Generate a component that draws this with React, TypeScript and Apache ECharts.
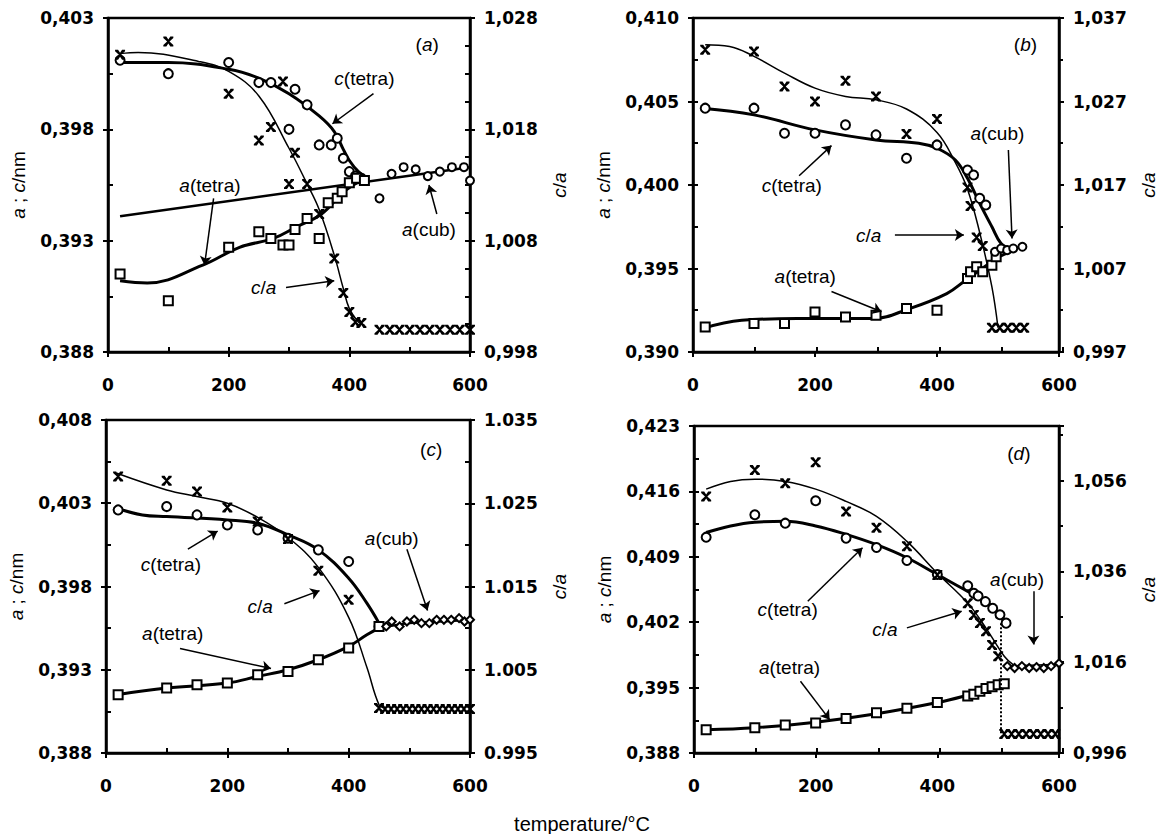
import { useEffect, useRef } from "react";
import * as echarts from "echarts";

type Pt = [number, number];

// ---- panel (a) ----
const aCTetra: Pt[] = [[20, 0.4011], [100, 0.4005], [200, 0.401], [250, 0.4001], [270, 0.4001], [310, 0.3998], [330, 0.3991], [300, 0.398], [350, 0.3973], [370, 0.3973], [380, 0.3976], [390, 0.3967], [400, 0.3961], [410, 0.3959], [420, 0.3958]];
const aATetra: Pt[] = [[20, 0.3915], [100, 0.3903], [200, 0.3927], [250, 0.3934], [270, 0.3931], [290, 0.3928], [300, 0.3928], [310, 0.3935], [330, 0.394], [350, 0.3931], [365, 0.3947], [380, 0.3949], [388, 0.3952], [400, 0.3956], [412, 0.3958], [425, 0.3957]];
const aCub: Pt[] = [[450, 0.3949], [470, 0.396], [490, 0.3963], [510, 0.3962], [530, 0.3959], [550, 0.3961], [570, 0.3963], [590, 0.3963], [600, 0.3957]];
const aRatio: Pt[] = [[20, 1.0247], [100, 1.0259], [200, 1.0212], [250, 1.017], [270, 1.0182], [290, 1.0223], [300, 1.0131], [310, 1.0159], [330, 1.0131], [350, 1.0104], [375, 1.0064], [390, 1.0033], [400, 1.0016], [410, 1.0007], [420, 1.0006], [450, 1.0], [467, 1.0], [483, 1.0], [500, 1.0], [517, 1.0], [533, 1.0], [550, 1.0], [567, 1.0], [583, 1.0], [600, 1.0]];
const aCTetraFit: Pt[] = [[20, 0.401], [100, 0.401], [200, 0.4007], [250, 0.4003], [300, 0.3996], [350, 0.3986], [375, 0.3979], [390, 0.3971], [400, 0.3966], [415, 0.3961], [430, 0.3958]];
const aATetraFit: Pt[] = [[20, 0.3912], [65, 0.3911], [157, 0.3919], [218, 0.3927], [274, 0.3931], [311, 0.3936], [354, 0.3942], [391, 0.3952], [425, 0.3958]];
const aRatioFit: Pt[] = [[20, 1.0248], [50, 1.0249], [150, 1.0241], [200, 1.0232], [250, 1.021], [300, 1.0163], [330, 1.0131], [350, 1.0108], [375, 1.0067], [390, 1.0037], [400, 1.0019], [415, 1.0007], [425, 1.0004]];
const aCubFit: Pt[] = [[20, 0.3941], [600, 0.3963]];

// ---- panel (b) ----
const bCTetra: Pt[] = [[20, 0.4046], [100, 0.4046], [150, 0.4031], [200, 0.4031], [250, 0.4036], [300, 0.403], [350, 0.4016], [400, 0.4024], [450, 0.4009], [460, 0.4006], [470, 0.3992], [480, 0.3988]];
const bATetra: Pt[] = [[20, 0.3915], [100, 0.3917], [150, 0.3917], [200, 0.3924], [250, 0.3921], [300, 0.3922], [350, 0.3926], [400, 0.3925], [450, 0.3944], [455, 0.3948], [465, 0.3951], [475, 0.3948], [490, 0.3952], [497, 0.3957]];
const bCub: Pt[] = [[495, 0.396], [505, 0.3962], [515, 0.3961], [525, 0.3962], [540, 0.3963]];
const bRatio: Pt[] = [[20, 1.0332], [100, 1.033], [150, 1.0288], [200, 1.027], [250, 1.0295], [300, 1.0276], [350, 1.0231], [400, 1.0249], [450, 1.0167], [455, 1.0145], [465, 1.0107], [475, 1.0097], [490, 0.9999], [503, 0.9999], [516, 0.9999], [530, 0.9999], [543, 0.9999]];
const bCTetraFit: Pt[] = [[15, 0.4046], [100, 0.4042], [200, 0.4033], [300, 0.4027], [370, 0.4025], [400, 0.4022], [430, 0.4015], [450, 0.4004], [470, 0.3989], [490, 0.3975], [505, 0.3965], [520, 0.3962]];
const bATetraFit: Pt[] = [[15, 0.3914], [80, 0.3919], [171, 0.392], [294, 0.392], [355, 0.3926], [416, 0.3935], [447, 0.3943], [478, 0.3951], [502, 0.3957], [527, 0.3961]];
const bRatioFit: Pt[] = [[20, 1.0338], [60, 1.0336], [100, 1.0324], [150, 1.0304], [200, 1.0286], [250, 1.0276], [300, 1.0272], [350, 1.0261], [400, 1.0233], [430, 1.0197], [450, 1.0165], [470, 1.0113], [490, 1.0048], [500, 0.9999]];
const bCubFit: Pt[] = [[500, 0.396], [540, 0.3963]];

// ---- panel (c) ----
const cCTetra: Pt[] = [[20, 0.4026], [100, 0.4028], [150, 0.4023], [200, 0.4017], [250, 0.4014], [300, 0.4009], [350, 0.4002], [400, 0.3995], [450, 0.3956]];
const cATetra: Pt[] = [[20, 0.3915], [100, 0.3919], [150, 0.3921], [200, 0.3922], [250, 0.3927], [300, 0.3929], [350, 0.3936], [400, 0.3943], [450, 0.3956]];
const cCub: Pt[] = [[462, 0.3956], [471, 0.3959], [484, 0.3956], [496, 0.3959], [508, 0.396], [520, 0.3958], [533, 0.3958], [545, 0.396], [557, 0.396], [569, 0.396], [582, 0.3961], [591, 0.3959], [600, 0.396]];
const cRatio: Pt[] = [[20, 1.0282], [100, 1.0277], [150, 1.0264], [200, 1.0245], [250, 1.0228], [300, 1.0207], [350, 1.0169], [400, 1.0134], [450, 1.0004], [460, 1.0003], [470, 1.0003], [480, 1.0003], [490, 1.0003], [500, 1.0003], [510, 1.0003], [520, 1.0003], [530, 1.0003], [540, 1.0003], [550, 1.0003], [560, 1.0003], [570, 1.0003], [580, 1.0003], [590, 1.0003], [600, 1.0003]];
const cCTetraFit: Pt[] = [[18, 0.4027], [60, 0.4023], [100, 0.4022], [200, 0.402], [250, 0.4018], [300, 0.4011], [350, 0.4002], [400, 0.3985], [430, 0.397], [450, 0.3958]];
const cATetraFit: Pt[] = [[18, 0.3915], [100, 0.3919], [200, 0.3922], [250, 0.3926], [300, 0.393], [350, 0.3936], [400, 0.3944], [430, 0.3951], [450, 0.3955]];
const cRatioFit: Pt[] = [[18, 1.0286], [100, 1.0266], [150, 1.0258], [200, 1.025], [250, 1.0233], [300, 1.0209], [350, 1.0173], [400, 1.0113], [430, 1.0053], [450, 1.0008], [460, 1.0004]];
const cCubFit: Pt[] = [[450, 0.3955], [500, 0.3958], [550, 0.3959], [600, 0.396]];

// ---- panel (d) ----
const dCTetra: Pt[] = [[20, 0.4111], [100, 0.4135], [150, 0.4126], [200, 0.415], [250, 0.411], [300, 0.41], [350, 0.4086], [400, 0.4071], [450, 0.4059], [460, 0.4051], [467, 0.4048], [479, 0.4042], [491, 0.4035], [503, 0.4028], [513, 0.4019]];
const dATetra: Pt[] = [[20, 0.3905], [100, 0.3907], [150, 0.391], [200, 0.3912], [250, 0.3917], [300, 0.3923], [350, 0.3928], [400, 0.3934], [450, 0.3941], [460, 0.3943], [470, 0.3946], [480, 0.3949], [490, 0.3951], [500, 0.3953], [510, 0.3954]];
const dCub: Pt[] = [[515, 0.3973], [527, 0.3971], [539, 0.3973], [551, 0.3971], [563, 0.3972], [575, 0.3971], [587, 0.3973], [600, 0.3976]];
const dRatio: Pt[] = [[20, 1.0525], [100, 1.0583], [150, 1.0554], [200, 1.06], [250, 1.0492], [300, 1.0456], [350, 1.0415], [400, 1.0352], [450, 1.029], [460, 1.0264], [470, 1.0246], [480, 1.0228], [490, 1.0198], [500, 1.0173], [510, 1.0002], [522, 1.0002], [534, 1.0002], [546, 1.0002], [558, 1.0002], [570, 1.0002], [582, 1.0002], [594, 1.0002]];
const dCTetraFit: Pt[] = [[20, 0.4116], [60, 0.4123], [100, 0.4127], [150, 0.4128], [200, 0.4123], [250, 0.4114], [300, 0.4103], [350, 0.4089], [400, 0.4071], [450, 0.4053], [480, 0.4043], [510, 0.4021]];
const dATetraFit: Pt[] = [[20, 0.3905], [100, 0.3907], [200, 0.3913], [300, 0.3922], [400, 0.3934], [450, 0.3942], [510, 0.3953]];
const dRatioFit: Pt[] = [[20, 1.0541], [60, 1.0558], [100, 1.0563], [150, 1.0558], [200, 1.0541], [250, 1.0514], [300, 1.0481], [350, 1.0426], [400, 1.0356], [450, 1.029], [480, 1.0235], [510, 1.0173], [525, 1.0154]];
const dCubFit: Pt[] = [[515, 0.3973], [600, 0.3975]];

const X_TITLE = "temperature/°C";
const LEFT_NAME = "{i|a} ; {i|c}/nm";
const RIGHT_NAME = "{i|c}/{i|a}";

const FONT = '"Liberation Sans", Arial, sans-serif';
const BOLD_FONT = '"DejaVu Sans", sans-serif';
const CROSS = "path://M0,0H3L5,3L7,0H10V1.5L6.2,5L10,8.5V10H7L5,7L3,10H0V8.5L3.8,5L0,1.5Z";

interface AxisRange { min: number; max: number; major: number; minor: number; comma: boolean }
interface Note { at: Pt; text: string }
interface Arrow { from: Pt; to: Pt; dotted?: boolean }
interface Panel {
  rect: { left: number; top: number; width: number; height: number };
  left: AxisRange;
  right: AxisRange;
  cTetra: Pt[]; aTetra: Pt[]; cub: Pt[]; ratio: Pt[];
  cTetraFit: Pt[]; aTetraFit: Pt[]; ratioFit: Pt[]; cubFit: Pt[];
  cubSymbol: string;
  cubLineWidth: number;
  notes: Note[];
  arrows: Arrow[];
}

const panels: Panel[] = [
  {
    rect: { left: 108, top: 18, width: 362, height: 334 },
    left: { min: 0.388, max: 0.403, major: 0.005, minor: 0.0025, comma: true },
    right: { min: 0.998, max: 1.028, major: 0.01, minor: 0.0025, comma: true },
    cTetra: aCTetra, aTetra: aATetra, cub: aCub, ratio: aRatio,
    cTetraFit: aCTetraFit, aTetraFit: aATetraFit, ratioFit: aRatioFit, cubFit: aCubFit,
    cubSymbol: "circle", cubLineWidth: 2.5,
    notes: [
      { at: [529, 0.4018], text: "({i|a})" },
      { at: [425, 0.4003], text: "{i|c}(tetra)" },
      { at: [169, 0.3955], text: "{i|a}(tetra)" },
      { at: [532, 0.3935], text: "{i|a}(cub)" },
      { at: [258, 0.3909], text: "{i|c}/{i|a}" },
    ],
    arrows: [
      { from: [440, 0.3996], to: [372, 0.39825] },
      { from: [175, 0.3949], to: [160, 0.3919] },
      { from: [545, 0.3942], to: [532, 0.3955] },
      { from: [295, 0.3909], to: [375, 0.3912] },
    ],
  },
  {
    rect: { left: 693, top: 18, width: 370, height: 334 },
    left: { min: 0.39, max: 0.41, major: 0.005, minor: 0.0025, comma: true },
    right: { min: 0.997, max: 1.037, major: 0.01, minor: 0.005, comma: true },
    cTetra: bCTetra, aTetra: bATetra, cub: bCub, ratio: bRatio,
    cTetraFit: bCTetraFit, aTetraFit: bATetraFit, ratioFit: bRatioFit, cubFit: bCubFit,
    cubSymbol: "circle", cubLineWidth: 2.5,
    notes: [
      { at: [545, 0.4084], text: "({i|b})" },
      { at: [499, 0.4031], text: "{i|a}(cub)" },
      { at: [162, 0.4], text: "{i|c}(tetra)" },
      { at: [288, 0.397], text: "{i|c}/{i|a}" },
      { at: [184, 0.3945], text: "{i|a}(tetra)" },
    ],
    arrows: [
      { from: [517, 0.4021], to: [523, 0.3968] },
      { from: [174, 0.40055], to: [227, 0.40236] },
      { from: [331, 0.397], to: [444, 0.397] },
      { from: [227, 0.39362], to: [309, 0.39241] },
    ],
  },
  {
    rect: { left: 106, top: 420, width: 364, height: 333 },
    left: { min: 0.388, max: 0.408, major: 0.005, minor: 0.0025, comma: true },
    right: { min: 0.995, max: 1.035, major: 0.01, minor: 0.005, comma: false },
    cTetra: cCTetra, aTetra: cATetra, cub: cCub, ratio: cRatio,
    cTetraFit: cCTetraFit, aTetraFit: cATetraFit, ratioFit: cRatioFit, cubFit: cCubFit,
    cubSymbol: "diamond", cubLineWidth: 2.5,
    notes: [
      { at: [536, 0.4062], text: "({i|c})" },
      { at: [107, 0.3993], text: "{i|c}(tetra)" },
      { at: [254, 0.3968], text: "{i|c}/{i|a}" },
      { at: [471, 0.4009], text: "{i|a}(cub)" },
      { at: [110, 0.3952], text: "{i|a}(tetra)" },
    ],
    arrows: [
      { from: [135, 0.40024], to: [184, 0.40133] },
      { from: [294, 0.39696], to: [352, 0.39775] },
      { from: [496, 0.40024], to: [530, 0.39656] },
      { from: [122, 0.39427], to: [272, 0.39307] },
    ],
  },
  {
    rect: { left: 694, top: 426, width: 369, height: 327 },
    left: { min: 0.388, max: 0.423, major: 0.007, minor: 0.0035, comma: true },
    right: { min: 0.996, max: 1.068, major: 0.02, minor: 0.01, comma: true },
    cTetra: dCTetra, aTetra: dATetra, cub: dCub, ratio: dRatio,
    cTetraFit: dCTetraFit, aTetraFit: dATetraFit, ratioFit: dRatioFit, cubFit: dCubFit,
    cubSymbol: "diamond", cubLineWidth: 1.5,
    notes: [
      { at: [534, 0.4201], text: "({i|d})" },
      { at: [531, 0.4066], text: "{i|a}(cub)" },
      { at: [154, 0.4034], text: "{i|c}(tetra)" },
      { at: [314, 0.4012], text: "{i|c}/{i|a}" },
      { at: [157, 0.3971], text: "{i|a}(tetra)" },
    ],
    arrows: [
      { from: [558, 0.40532], to: [558, 0.39961] },
      { from: [187, 0.40425], to: [277, 0.40996] },
      { from: [350, 0.40139], to: [440, 0.40318] },
      { from: [175, 0.39568], to: [223, 0.39157] },
      { from: [505, 0.4019], to: [505, 0.39], dotted: true },
    ],
  },
];

const black = "#000";
const rich = { i: { fontStyle: "italic" as const, fontSize: 19, fontFamily: FONT, color: black } };

function labelFormatter(r: AxisRange) {
  return (v: number) => {
    const k = (v - r.min) / r.major;
    if (Math.abs(k - Math.round(k)) > 1e-6) return "";
    const s = v.toFixed(3);
    return r.comma ? s.replace(".", ",") : s;
  };
}

function buildOption(): echarts.EChartsOption {
  const grid: any[] = [];
  const xAxis: any[] = [];
  const yAxis: any[] = [];
  const series: any[] = [];

  panels.forEach((p, i) => {
    grid.push({ ...p.rect, show: true, borderColor: black, borderWidth: 2.5, containLabel: false });
    grid.push({ ...p.rect, show: false, containLabel: false });

    const tick = { color: black, width: 2 };
    xAxis.push({
      type: "value", gridIndex: 2 * i, min: 0, max: 600, interval: 200,
      axisLine: { show: true, onZero: false, lineStyle: { color: black, width: 2.5 } },
      axisTick: { show: true, inside: false, length: 5, lineStyle: tick },
      axisLabel: { margin: 24, color: black, fontSize: 17, fontWeight: "bold", fontFamily: BOLD_FONT },
      splitLine: { show: false },
    });
    xAxis.push({
      type: "value", gridIndex: 2 * i + 1, min: 0, max: 600, interval: 100,
      axisLine: { show: false, onZero: false },
      axisTick: { show: true, inside: true, length: 5, lineStyle: tick },
      axisLabel: { show: false },
      splitLine: { show: false },
    });

    const mainY = (r: AxisRange, position: "left" | "right", name: string, gap: number) => ({
      type: "value", gridIndex: 2 * i, position, min: r.min, max: r.max, interval: r.major,
      name, nameLocation: "middle", nameRotate: 90, nameGap: gap,
      nameTextStyle: { color: black, fontSize: 19, fontFamily: FONT, rich },
      axisLine: { show: true, onZero: false, lineStyle: { color: black, width: 2.5 } },
      axisTick: { show: true, inside: false, length: 5, lineStyle: tick },
      axisLabel: { margin: 14, color: black, fontSize: 17, fontWeight: "bold", fontFamily: BOLD_FONT, formatter: labelFormatter(r) },
      splitLine: { show: false },
    });
    const innerY = (r: AxisRange, position: "left" | "right") => ({
      type: "value", gridIndex: 2 * i + 1, position, min: r.min, max: r.max, interval: r.minor,
      axisLine: { show: false, onZero: false },
      axisTick: { show: true, inside: true, length: 5, lineStyle: tick },
      axisLabel: { show: false },
      splitLine: { show: false },
    });
    yAxis.push(mainY(p.left, "left", LEFT_NAME, 80));
    yAxis.push(mainY(p.right, "right", RIGHT_NAME, 80));
    yAxis.push(innerY(p.left, "left"));
    yAxis.push(innerY(p.right, "right"));

    const yl = 4 * i;
    const yr = 4 * i + 1;
    const line = (data: Pt[], y: number, width: number) => ({
      type: "line", xAxisIndex: 2 * i, yAxisIndex: y, data, smooth: 0.4,
      symbol: "none", showSymbol: false, silent: true, z: 2,
      lineStyle: { color: black, width, opacity: 1 },
    });
    const dots = (data: Pt[], y: number, symbol: string, size: number, filled: boolean) => ({
      type: "scatter", xAxisIndex: 2 * i, yAxisIndex: y, data, symbol, symbolSize: size, silent: true, z: 3,
      itemStyle: filled
        ? { color: black, borderWidth: 0, opacity: 1 }
        : { color: "#fff", borderColor: black, borderWidth: 2, opacity: 1 },
    });

    series.push(line(p.cTetraFit, yl, 3));
    series.push(line(p.ratioFit, yr, 1.5));
    series.push(line(p.cubFit, yl, p.cubLineWidth));
    series.push({
      ...line(p.aTetraFit, yl, 3),
      markLine: {
        silent: true, symbol: ["none", "arrow"], symbolSize: 9, animation: false,
        label: { show: false },
        lineStyle: { color: black, width: 1.5, type: "solid", opacity: 1 },
        data: p.arrows.map((a) => [
          { coord: a.from, symbol: "none", lineStyle: a.dotted ? { type: "dotted", width: 2, color: black } : undefined },
          { coord: a.to, symbol: a.dotted ? "none" : "arrow" },
        ]),
      },
      markPoint: {
        silent: true, symbol: "circle", symbolSize: 1, animation: false,
        itemStyle: { color: "rgba(0,0,0,0)" },
        data: p.notes.map((n) => ({
          coord: n.at,
          label: {
            show: true, position: "inside", color: black, fontSize: 19, fontFamily: FONT,
            formatter: () => n.text, rich,
          },
        })),
      },
    });
    series.push(dots(p.cTetra, yl, "circle", 9, false));
    series.push(dots(p.aTetra, yl, "rect", 9, false));
    series.push(dots(p.cub, yl, p.cubSymbol, 8, false));
    series.push(dots(p.ratio, yr, CROSS, 10, true));
  });

  return {
    animation: false,
    backgroundColor: "#fff",
    grid,
    xAxis,
    yAxis,
    series,
    graphic: [
      {
        type: "text", x: 582, y: 824,
        style: { text: X_TITLE, fill: black, font: `20px ${FONT}`, textAlign: "center", textVerticalAlign: "middle" },
      },
    ],
  };
}

export default function App() {
  const ref = useRef<HTMLDivElement>(null);

  useEffect(() => {
    if (!ref.current) return;
    const chart = echarts.init(ref.current, undefined, { renderer: "svg" });
    chart.setOption(buildOption());
    return () => chart.dispose();
  }, []);

  return <div ref={ref} style={{ position: "absolute", left: 0, top: 0, width: 1159, height: 834 }} />;
}
